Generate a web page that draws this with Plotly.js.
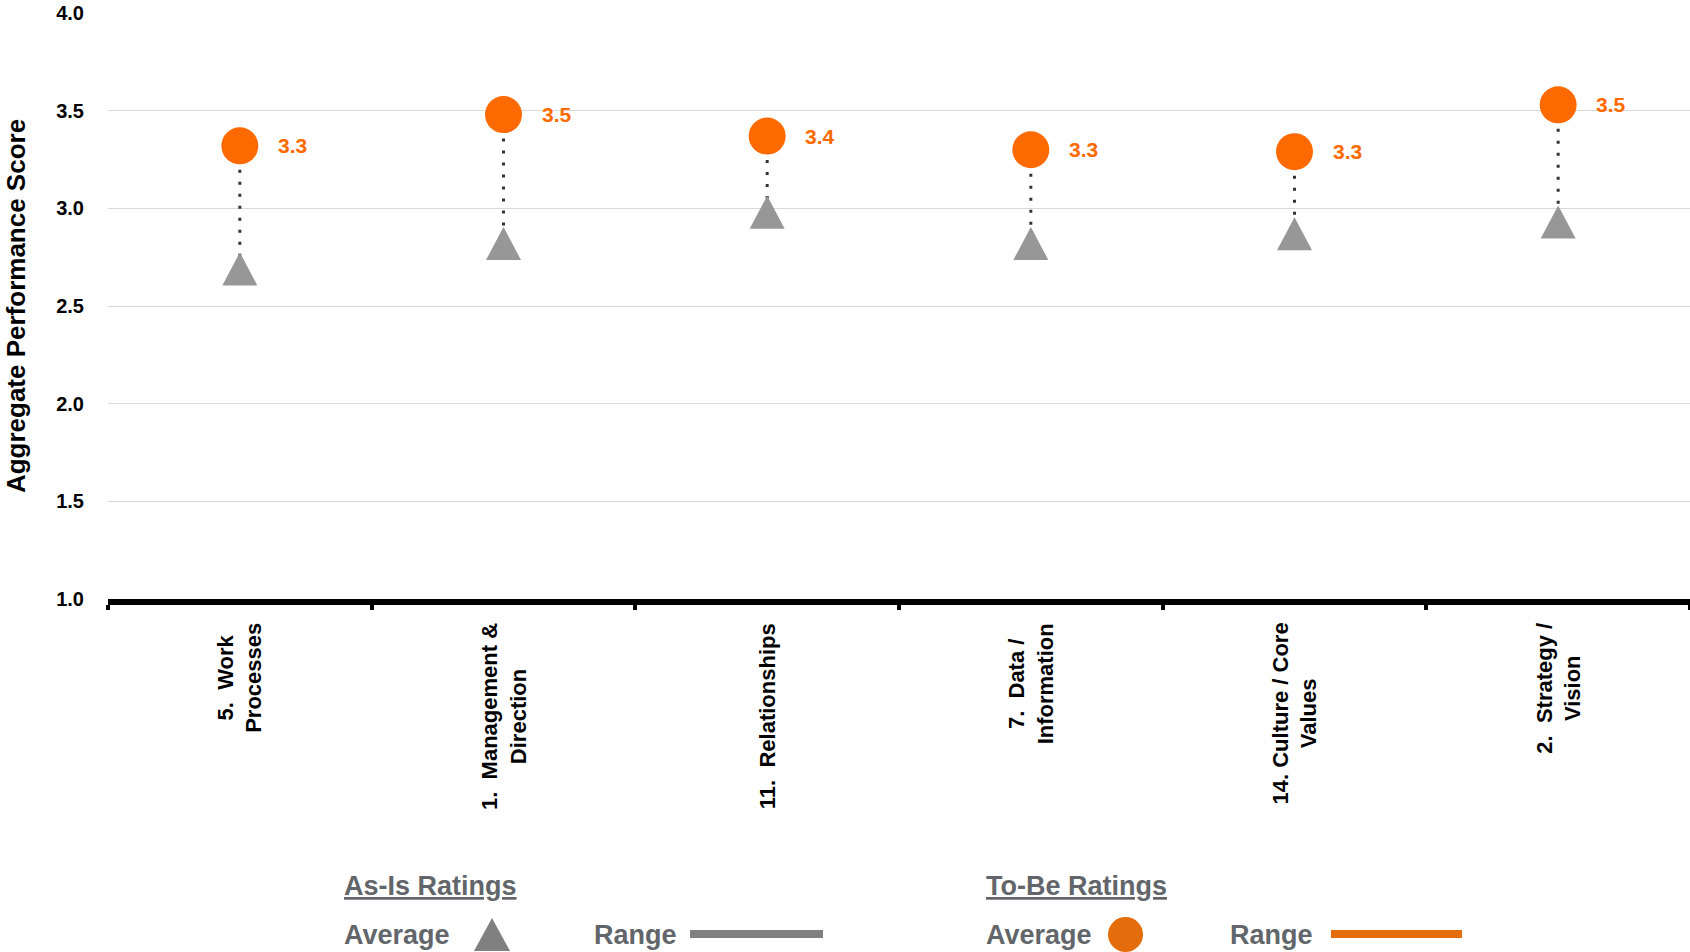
<!DOCTYPE html>
<html>
<head>
<meta charset="utf-8">
<script src="https://cdn.plot.ly/plotly-3.0.1.min.js"></script>
<style>
  html, body { margin: 0; padding: 0; background: #ffffff; }
  #chart { width: 1690px; height: 952px; }
</style>
</head>
<body>
<div id="chart"></div>
<script>
// Performance dimensions (line breaks mark the wrapped label lines)
const categories = [
  '5.  Work\nProcesses',
  '1.  Management &\nDirection',
  '11.  Relationships',
  '7.  Data /\nInformation',
  '14. Culture / Core\nValues',
  '2.  Strategy /\nVision'
];

// Average ratings per dimension
const asIsAverage = [2.69, 2.82, 2.98, 2.82, 2.87, 2.93];
const toBeAverage = [3.32, 3.48, 3.37, 3.30, 3.29, 3.53];

// Value-axis ticks
const yTickValues = [1.0, 1.5, 2.0, 2.5, 3.0, 3.5, 4.0];

// Legend wording
const legendGroups = ['As-Is Ratings', 'To-Be Ratings'];
const legendItems = ['Average', 'Range'];

const FONT = 'Liberation Sans, Arial, Helvetica, sans-serif';
const ORANGE = '#FF6A00';
const LEGEND_ORANGE = '#E46C0A';
const TRI_GREY = '#979797';
const LEGEND_GREY = '#808080';
const TEXT_GREY = '#62666A';

const PLOT_LEFT = 108;   // px, left edge of plotting area
const PLOT_BOTTOM = 599; // px, bottom edge of plotting area

const idx = categories.map((_, i) => i);

function labelHtml(s) {
  return s.replace(/&/g, '&amp;').replace(/  /g, ' \u00a0').replace(/\n/g, '<br>');
}

// dotted connectors between the two averages
const connX = [], connY = [];
idx.forEach(i => {
  connX.push(i, i, null);
  connY.push(toBeAverage[i], asIsAverage[i], null);
});

const traces = [
  {
    type: 'scatter', mode: 'lines',
    x: connX, y: connY,
    line: { color: '#333333', width: 3, dash: '3px,9px' },
    hoverinfo: 'skip', showlegend: false
  },
  {
    type: 'scatter', mode: 'markers',
    name: 'To-Be Average',
    x: idx, y: toBeAverage,
    marker: { symbol: 'circle', size: 37, color: ORANGE, line: { width: 0 } },
    showlegend: false
  }
];

// As-Is averages: isosceles triangles centred on each value
const shapes = idx.map(i => ({
  type: 'path', xref: 'x', yref: 'y',
  xsizemode: 'pixel', ysizemode: 'pixel',
  xanchor: i, yanchor: asIsAverage[i],
  path: 'M-17.5,-16.5 L17.5,-16.5 L0,16.5 Z',
  fillcolor: TRI_GREY, line: { width: 0 }, layer: 'above'
}));

// helpers for legend placement in pixels (relative to plot origin)
const px = x => x - PLOT_LEFT;
const py = y => PLOT_BOTTOM - y;

// legend symbols
shapes.push(
  { type: 'path', xref: 'paper', yref: 'paper', xsizemode: 'pixel', ysizemode: 'pixel',
    xanchor: 0, yanchor: 0,
    path: `M${px(474)},${py(951)} L${px(510)},${py(951)} L${px(492)},${py(918)} Z`,
    fillcolor: LEGEND_GREY, line: { width: 0 } },
  { type: 'line', xref: 'paper', yref: 'paper', xsizemode: 'pixel', ysizemode: 'pixel',
    xanchor: 0, yanchor: 0,
    x0: px(690), x1: px(823), y0: py(934), y1: py(934),
    line: { color: LEGEND_GREY, width: 8 } },
  { type: 'circle', xref: 'paper', yref: 'paper', xsizemode: 'pixel', ysizemode: 'pixel',
    xanchor: 0, yanchor: 0,
    x0: px(1108), x1: px(1143), y0: py(917), y1: py(952),
    fillcolor: LEGEND_ORANGE, line: { width: 0 } },
  { type: 'line', xref: 'paper', yref: 'paper', xsizemode: 'pixel', ysizemode: 'pixel',
    xanchor: 0, yanchor: 0,
    x0: px(1331), x1: px(1462), y0: py(934), y1: py(934),
    line: { color: LEGEND_ORANGE, width: 8 } }
);

const annotations = [];

// value labels beside the To-Be markers
idx.forEach(i => {
  annotations.push({
    x: i, y: toBeAverage[i], xref: 'x', yref: 'y',
    text: toBeAverage[i].toFixed(1),
    showarrow: false, xanchor: 'left', yanchor: 'middle', xshift: 36,
    font: { family: FONT, size: 21, color: ORANGE, weight: 'bold' }
  });
});

// rotated category labels under the axis
idx.forEach(i => {
  annotations.push({
    x: i, y: 0, xref: 'x', yref: 'paper',
    text: '<b>' + labelHtml(categories[i]) + '</b>',
    showarrow: false, textangle: -90, align: 'center',
    xanchor: 'center', yanchor: 'top', yshift: -22,
    font: { family: FONT, size: 22, color: '#000000' }
  });
});

// legend text
function legendText(text, x, y) {
  annotations.push({
    x: 0, y: 0, xref: 'paper', yref: 'paper',
    xshift: px(x), yshift: py(y),
    text: text, showarrow: false, xanchor: 'left', yanchor: 'middle',
    font: { family: FONT, size: 27, color: TEXT_GREY, weight: 'bold' }
  });
}
legendText('<u>' + legendGroups[0] + '</u>', 342, 886);
legendText('<u>' + legendGroups[1] + '</u>', 984, 886);
legendText(legendItems[0], 342, 935);
legendText(legendItems[1], 592, 935);
legendText(legendItems[0], 984, 935);
legendText(legendItems[1], 1228, 935);

const layout = {
  width: 1690, height: 952,
  margin: { l: PLOT_LEFT, r: 0, t: 13, b: 952 - PLOT_BOTTOM, pad: 0 },
  paper_bgcolor: '#ffffff', plot_bgcolor: '#ffffff',
  showlegend: false,
  font: { family: FONT, color: '#000000' },
  xaxis: {
    range: [-0.5, categories.length - 0.5],
    tickmode: 'array',
    tickvals: idx.concat([categories.length]).map(v => v - 0.5),
    showticklabels: false,
    ticks: 'outside', ticklen: 5, tickwidth: 4, tickcolor: '#000000',
    showgrid: false, zeroline: false,
    showline: true, linecolor: '#000000', linewidth: 6,
    fixedrange: true
  },
  yaxis: {
    range: [1, 4],
    tickmode: 'array', tickvals: yTickValues,
    ticktext: yTickValues.map(v => v.toFixed(1)),
    tickfont: { family: FONT, size: 20, color: '#000000', weight: 'bold' },
    ticks: '', ticklabelstandoff: 23,
    showgrid: true, gridcolor: '#D9D9D9', gridwidth: 1,
    zeroline: false, showline: false,
    title: {
      text: 'Aggregate Performance Score',
      font: { family: FONT, size: 26, color: '#000000', weight: 'bold' },
      standoff: 23
    },
    fixedrange: true
  },
  shapes: shapes,
  annotations: annotations
};

Plotly.newPlot('chart', traces, layout, { displayModeBar: false, responsive: false });
</script>
</body>
</html>
